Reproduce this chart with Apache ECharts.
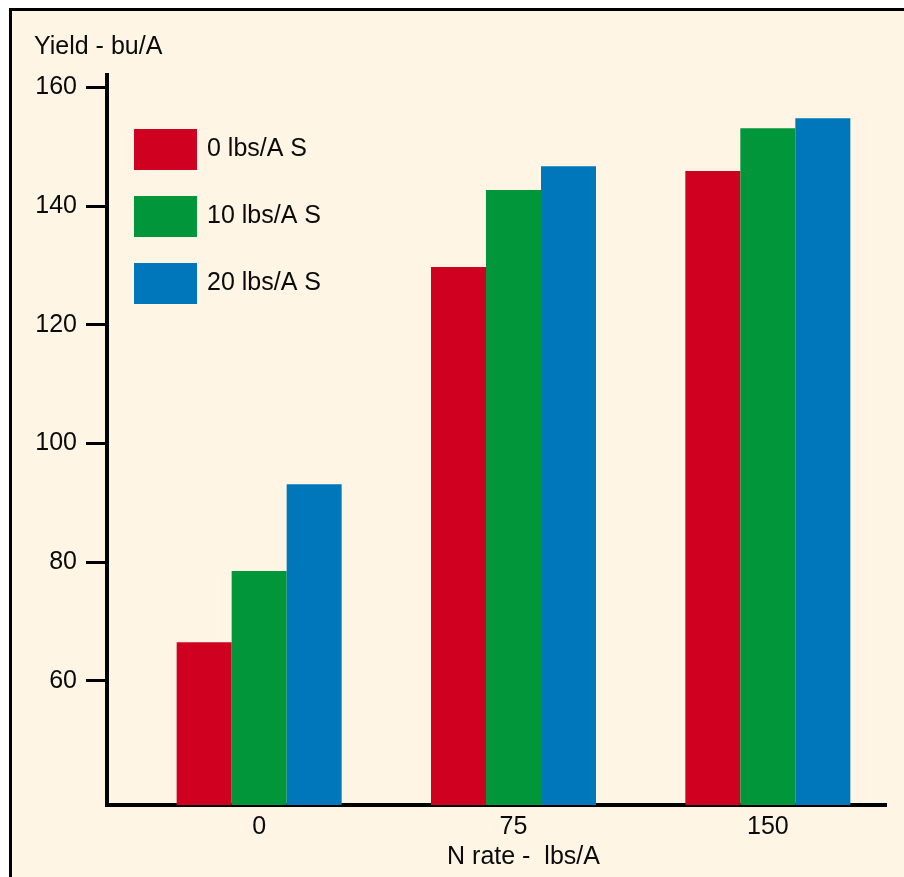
<!DOCTYPE html>
<html>
<head>
<meta charset="utf-8">
<script src="https://cdn.jsdelivr.net/npm/echarts@6/dist/echarts.min.js"></script>
<style>
html,body{margin:0;padding:0;background:#ffffff;width:904px;height:877px;overflow:hidden;}
#frame{position:absolute;left:9px;top:8px;right:0;bottom:0;border-left:3px solid #000;border-top:3px solid #000;background:#FEF5E5;}
#chart{position:absolute;left:0;top:0;width:904px;height:877px;}
</style>
</head>
<body>
<div id="frame"></div>
<div id="chart"></div>
<script>
const categories = ['0', '75', '150'];
const seriesNames = ['0 lbs/A S', '10 lbs/A S', '20 lbs/A S'];
const yield0S = [66.5, 129.7, 145.9];
const yield10S = [78.5, 142.7, 153.1];
const yield20S = [93.1, 146.7, 154.8];
const yTicks = [60, 80, 100, 120, 140, 160];
const colors = ['#D00020', '#009639', '#0077BB'];

const FONT = '"Liberation Sans", Arial, Helvetica, sans-serif';
const FS = 25;
const TXT = '#0a0a0a';
const chart = echarts.init(document.getElementById('chart'), null, {renderer: 'canvas'});
const yMin = 39.06, yMax = 162.07;

const seriesData = [yield0S, yield10S, yield20S];
const series = seriesData.map((d, i) => ({
  name: seriesNames[i],
  type: 'bar',
  xAxisIndex: 1,
  yAxisIndex: 1,
  data: d,
  barWidth: 55,
  barGap: '0%',
  itemStyle: {color: colors[i]},
  emphasis: {disabled: true},
  animation: false
}));

chart.setOption({
  animation: false,
  backgroundColor: 'transparent',
  textStyle: {fontFamily: FONT},
  title: {
    text: 'Yield - bu/A',
    left: 34, top: 35, padding: 0,
    textStyle: {fontFamily: FONT, fontSize: FS, fontWeight: 'normal', color: TXT}
  },
  legend: {
    orient: 'vertical',
    left: 134, top: 129, padding: 0,
    itemWidth: 63, itemHeight: 41, itemGap: 26,
    icon: 'rect',
    selectedMode: false,
    data: seriesNames,
    textStyle: {fontFamily: FONT, fontSize: FS, color: TXT, padding: [0, 0, 0, 5]}
  },
  grid: [
    {left: 107, right: 19, top: 75, bottom: 72, containLabel: false},
    {left: 132, right: 9, top: 75, bottom: 72, containLabel: false}
  ],
  xAxis: [
    {
      type: 'value', gridIndex: 0, min: 0, max: 1,
      axisLine: {show: true, onZero: false, lineStyle: {color: '#000', width: 4, cap: 'square'}},
      axisTick: {show: false}, axisLabel: {show: false}, splitLine: {show: false}
    },
    {
      type: 'category', gridIndex: 1, data: categories,
      axisLine: {show: false}, axisTick: {show: false},
      axisLabel: {fontFamily: FONT, fontSize: FS, color: TXT, margin: 10},
      name: 'N rate -  lbs/A', nameLocation: 'middle', nameGap: 38,
      nameTextStyle: {fontFamily: FONT, fontSize: FS, color: TXT, padding: [0, 0, 0, 20]},
      splitLine: {show: false}
    }
  ],
  yAxis: [
    {
      type: 'value', gridIndex: 0, min: yMin, max: yMax,
      axisLine: {show: true, onZero: false, lineStyle: {color: '#000', width: 4, cap: 'square'}},
      axisTick: {show: true, inside: false, length: 21, customValues: yTicks, lineStyle: {color: '#000', width: 3}},
      axisLabel: {show: true, customValues: yTicks, margin: 30, fontFamily: FONT, fontSize: FS, color: TXT},
      splitLine: {show: false}
    },
    {
      type: 'value', gridIndex: 1, min: yMin, max: yMax, show: false,
      splitLine: {show: false}
    }
  ],
  series: series
});
</script>
</body>
</html>
